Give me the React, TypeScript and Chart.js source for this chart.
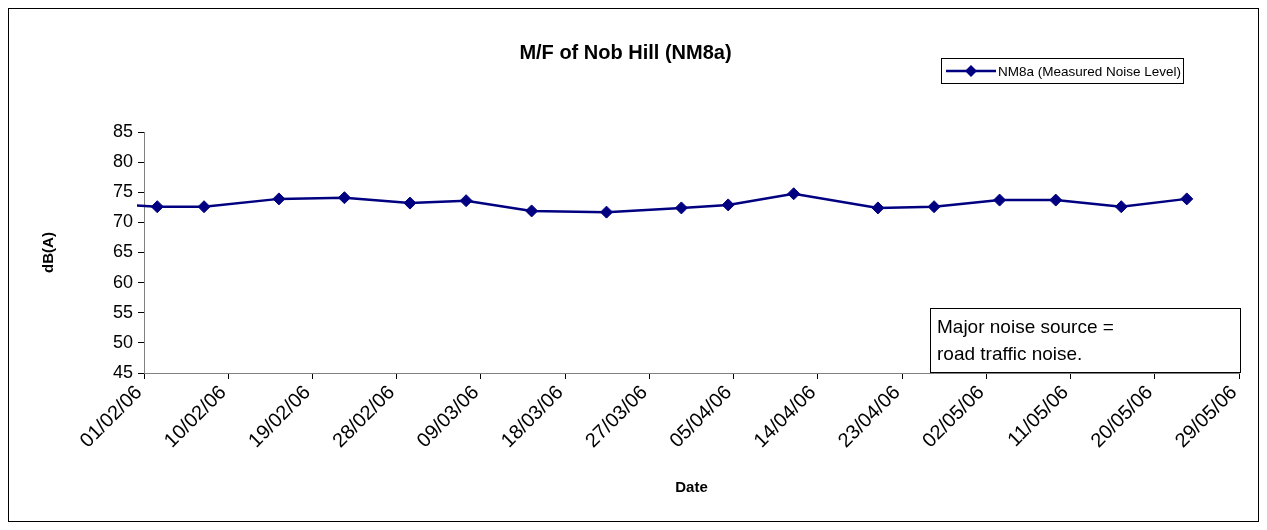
import React, { useEffect, useRef } from "react";
import { Chart, registerables } from "chart.js";

Chart.register(...registerables);

// ---- data ----
const chartTitle = "M/F of Nob Hill (NM8a)";
const seriesLabel = "NM8a (Measured Noise Level)";
const axisStartDate = "01/02/06";
const readingHour = 10; // time of day of each reading
const measurementDates = [
  "26/01/06", "02/02/06", "07/02/06", "15/02/06", "22/02/06", "01/03/06",
  "07/03/06", "14/03/06", "22/03/06", "30/03/06", "04/04/06", "11/04/06",
  "20/04/06", "26/04/06", "03/05/06", "09/05/06", "16/05/06", "23/05/06",
];
const noiseLevels = [
  73.3, 72.6, 72.6, 73.9, 74.1, 73.2,
  73.6, 71.9, 71.7, 72.4, 72.9, 74.75,
  72.4, 72.6, 73.7, 73.7, 72.6, 73.9,
];
const xTickLabels = [
  "01/02/06", "10/02/06", "19/02/06", "28/02/06", "09/03/06", "18/03/06", "27/03/06",
  "05/04/06", "14/04/06", "23/04/06", "02/05/06", "11/05/06", "20/05/06", "29/05/06",
];
const xTickStepDays = 9;
const yMin = 45;
const yMax = 85;
const yStep = 5;
const noteLines = ["Major noise source =", "road traffic noise."];

const FONT = "'Liberation Sans', Arial, Helvetica, sans-serif";
const NAVY = "#000080";

function toUTC(d: string): number {
  const [dd, mm, yy] = d.split("/").map(Number);
  return Date.UTC(2000 + yy, mm - 1, dd);
}
function dayOffset(d: string): number {
  return (toUTC(d) - toUTC(axisStartDate)) / 86400000;
}

const overlayPlugin = {
  id: "overlay",
  afterDraw(chart: any) {
    const ctx = chart.ctx as CanvasRenderingContext2D;
    ctx.save();
    // legend
    ctx.fillStyle = "#fff";
    ctx.fillRect(932, 49, 242, 25);
    ctx.strokeStyle = "#000";
    ctx.lineWidth = 1;
    ctx.strokeRect(932.5, 49.5, 242, 25);
    const ly = 62;
    ctx.strokeStyle = NAVY;
    ctx.lineWidth = 2.5;
    ctx.beginPath();
    ctx.moveTo(937, ly);
    ctx.lineTo(987, ly);
    ctx.stroke();
    ctx.fillStyle = NAVY;
    ctx.beginPath();
    const r = 6;
    ctx.moveTo(962, ly - r);
    ctx.lineTo(962 + r, ly);
    ctx.lineTo(962, ly + r);
    ctx.lineTo(962 - r, ly);
    ctx.closePath();
    ctx.fill();
    ctx.fillStyle = "#000";
    ctx.font = `13.5px ${FONT}`;
    ctx.textBaseline = "middle";
    ctx.textAlign = "left";
    ctx.fillText(seriesLabel, 989, ly + 1);

    // note box
    ctx.fillStyle = "#fff";
    ctx.fillRect(921, 299, 310, 64);
    ctx.strokeStyle = "#000";
    ctx.lineWidth = 1;
    ctx.strokeRect(921.5, 299.5, 310, 64);
    ctx.fillStyle = "#000";
    ctx.font = `19px ${FONT}`;
    ctx.fillText(noteLines[0], 928, 319);
    ctx.fillText(noteLines[1], 928, 346);
    ctx.restore();
  },
};

export default function App() {
  const ref = useRef<HTMLCanvasElement | null>(null);
  useEffect(() => {
    if (!ref.current) return;
    const points = measurementDates.map((d, i) => ({
      x: dayOffset(d) + readingHour / 24,
      y: noiseLevels[i],
    }));
    const chart = new Chart(ref.current, {
      type: "line",
      data: {
        datasets: [
          {
            label: seriesLabel,
            data: points,
            borderColor: NAVY,
            backgroundColor: NAVY,
            borderWidth: 2.5,
            pointStyle: "rectRot",
            pointRadius: 6,
            pointBorderWidth: 1,
            pointBorderColor: NAVY,
            pointBackgroundColor: NAVY,
            tension: 0,
            clip: { left: 7, top: 8, right: 8, bottom: 8 } as any,
          },
        ],
      },
      options: {
        animation: false,
        responsive: false,
        devicePixelRatio: 1,
        layout: { padding: { left: 0, right: 16, top: 0, bottom: 0 } },
        plugins: {
          legend: { display: false },
          tooltip: { enabled: false },
          title: {
            display: true,
            text: chartTitle,
            color: "#000",
            font: { family: FONT, size: 20, weight: "bold" },
            padding: { top: 32, bottom: 67 },
          },
        },
        scales: {
          x: {
            type: "linear",
            min: 0,
            max: xTickStepDays * (xTickLabels.length - 1),
            afterFit: (s: any) => {
              s.height = 148;
            },
            ticks: {
              stepSize: xTickStepDays,
              minRotation: 45,
              maxRotation: 45,
              autoSkip: false,
              padding: 2,
              labelOffset: -5,
              color: "#000",
              font: { family: FONT, size: 20 },
              callback: (_v: any, i: number) => xTickLabels[i],
            },
            grid: {
              display: true,
              drawOnChartArea: false,
              drawTicks: true,
              tickLength: 6,
              color: "#000",
            },
            border: { display: true, color: "#808080", width: 1 },
            title: {
              display: true,
              text: "Date",
              color: "#000",
              font: { family: FONT, size: 15, weight: "bold" },
              padding: { top: 0, bottom: 24 },
            },
          },
          y: {
            type: "linear",
            min: yMin,
            max: yMax,
            afterFit: (s: any) => {
              s.width = 135;
            },
            ticks: {
              stepSize: yStep,
              padding: 5,
              color: "#000",
              font: { family: FONT, size: 18 },
            },
            grid: {
              display: true,
              drawOnChartArea: false,
              drawTicks: true,
              tickLength: 6,
              color: "#000",
            },
            border: { display: true, color: "#808080", width: 1 },
            title: {
              display: true,
              text: "dB(A)",
              color: "#000",
              font: { family: FONT, size: 15, weight: "bold" },
              padding: { top: 31, bottom: 0 },
            },
          },
        },
      },
      plugins: [overlayPlugin],
    });
    return () => chart.destroy();
  }, []);

  return (
    <div
      style={{
        width: 1251,
        height: 514,
        border: "1px solid #000",
        boxSizing: "border-box",
        background: "#fff",
      }}
    >
      <canvas ref={ref} width={1249} height={512} style={{ display: "block", width: 1249, height: 512 }} />
    </div>
  );
}
